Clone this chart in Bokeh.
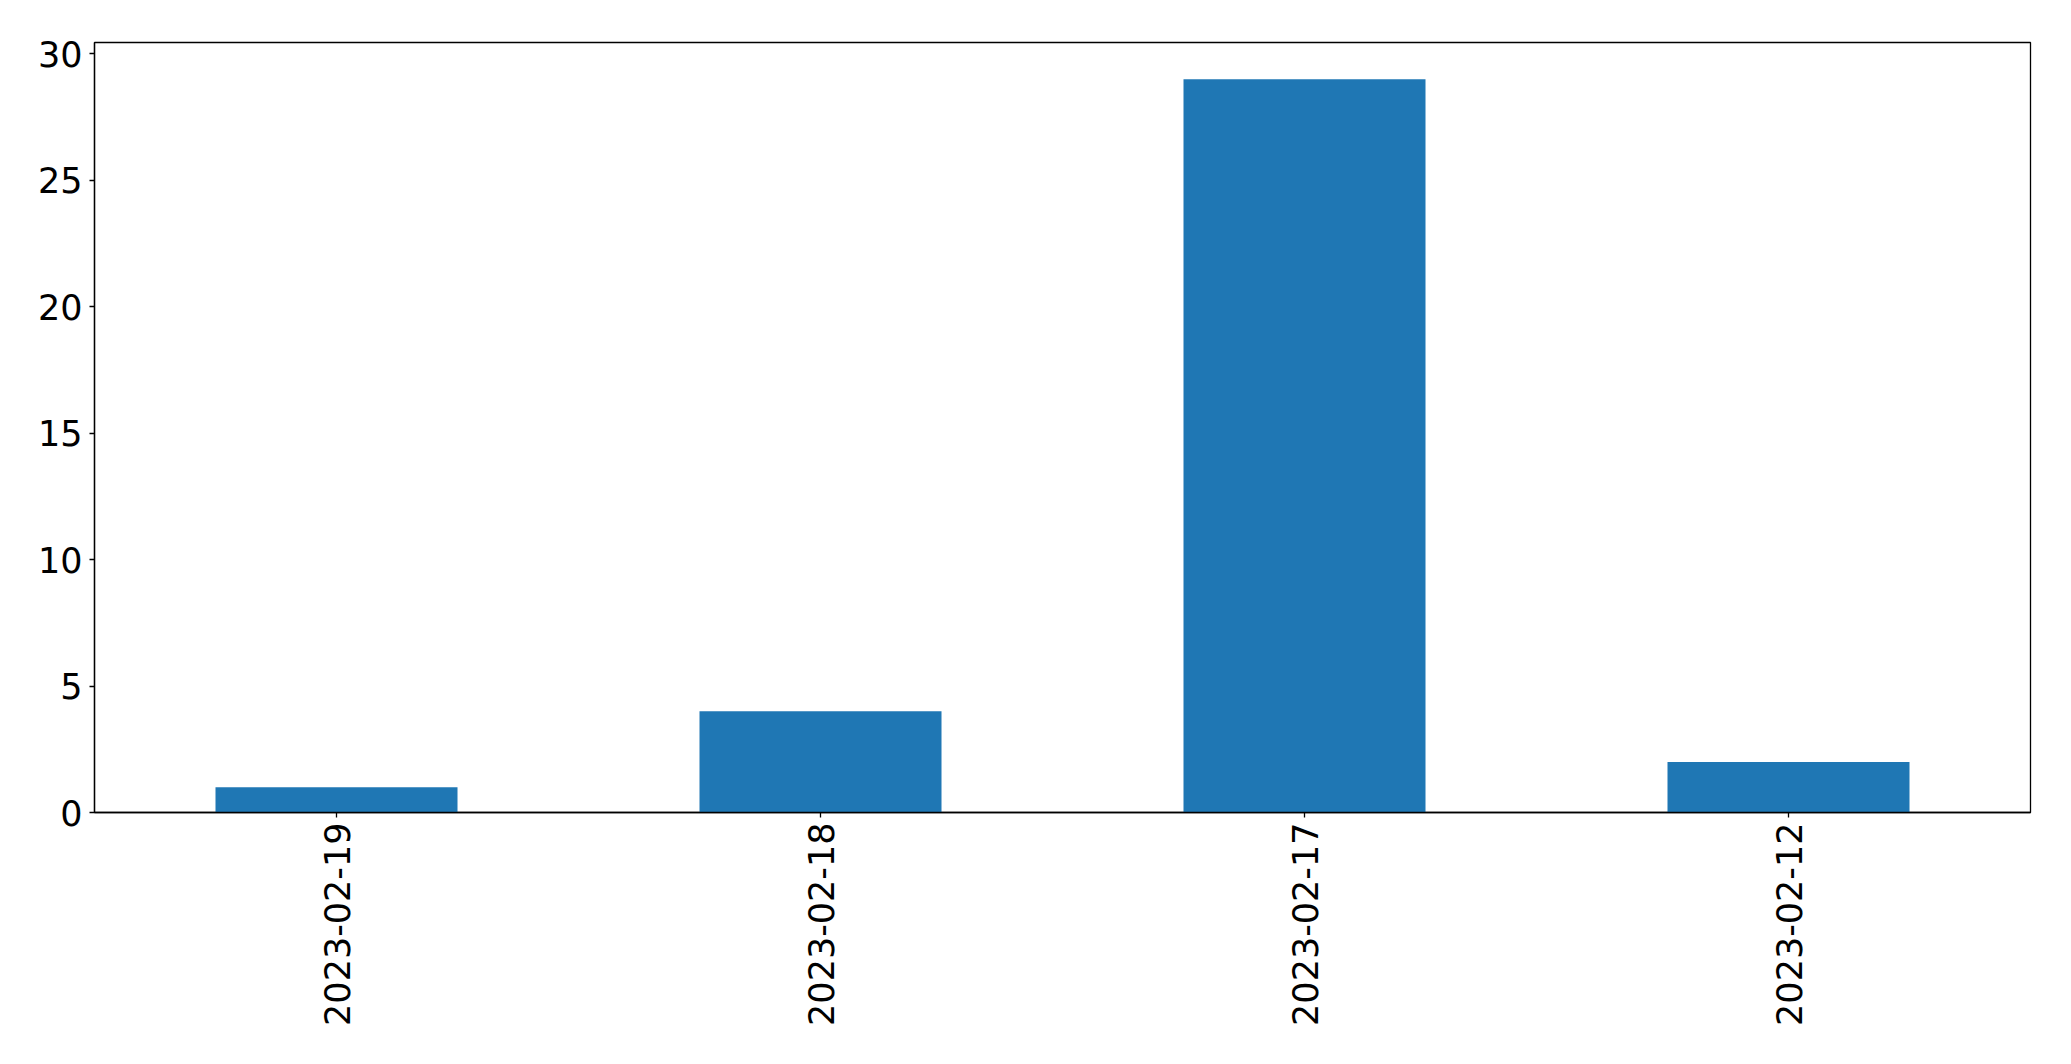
import math
from bokeh.plotting import figure
from bokeh.models import FactorRange, Range1d, FixedTicker, ColumnDataSource
from bokeh.embed import file_html
from bokeh.resources import INLINE

dates = ["2023-02-19", "2023-02-18", "2023-02-17", "2023-02-12"]
counts = [1, 4, 29, 2]
y_ticks = [0, 5, 10, 15, 20, 25, 30]

src = ColumnDataSource(dict(x=dates, top=counts))

p = figure(
    x_range=FactorRange(*dates),
    y_range=Range1d(0, max(counts) * 1.05),
    frame_width=1936, frame_height=770,
    min_border_left=94, min_border_right=32,
    min_border_top=42, min_border_bottom=236,
    output_backend="svg", toolbar_location=None,
)
p.vbar(x="x", top="top", width=0.5, source=src, fill_color="#1f77b4", line_color=None)

p.xgrid.visible = False
p.ygrid.visible = False
p.outline_line_color = "black"
p.outline_line_alpha = 1.0
p.outline_line_width = 1.3

p.yaxis.ticker = FixedTicker(ticks=y_ticks)
p.yaxis.minor_tick_line_color = None

for ax in (p.xaxis[0], p.yaxis[0]):
    ax.axis_line_color = "black"
    ax.axis_line_width = 1.3
    ax.major_tick_line_color = "black"
    ax.major_tick_line_width = 1.3
    ax.major_tick_out = 5
    ax.major_tick_in = 0
    ax.major_label_text_font = "DejaVu Sans"
    ax.major_label_text_font_size = "35px"
    ax.major_label_text_color = "black"

p.yaxis.major_label_standoff = 7
p.xaxis.major_label_standoff = 5
p.xaxis.major_label_orientation = math.pi / 2

open("out.html", "w").write(file_html(p, INLINE))
